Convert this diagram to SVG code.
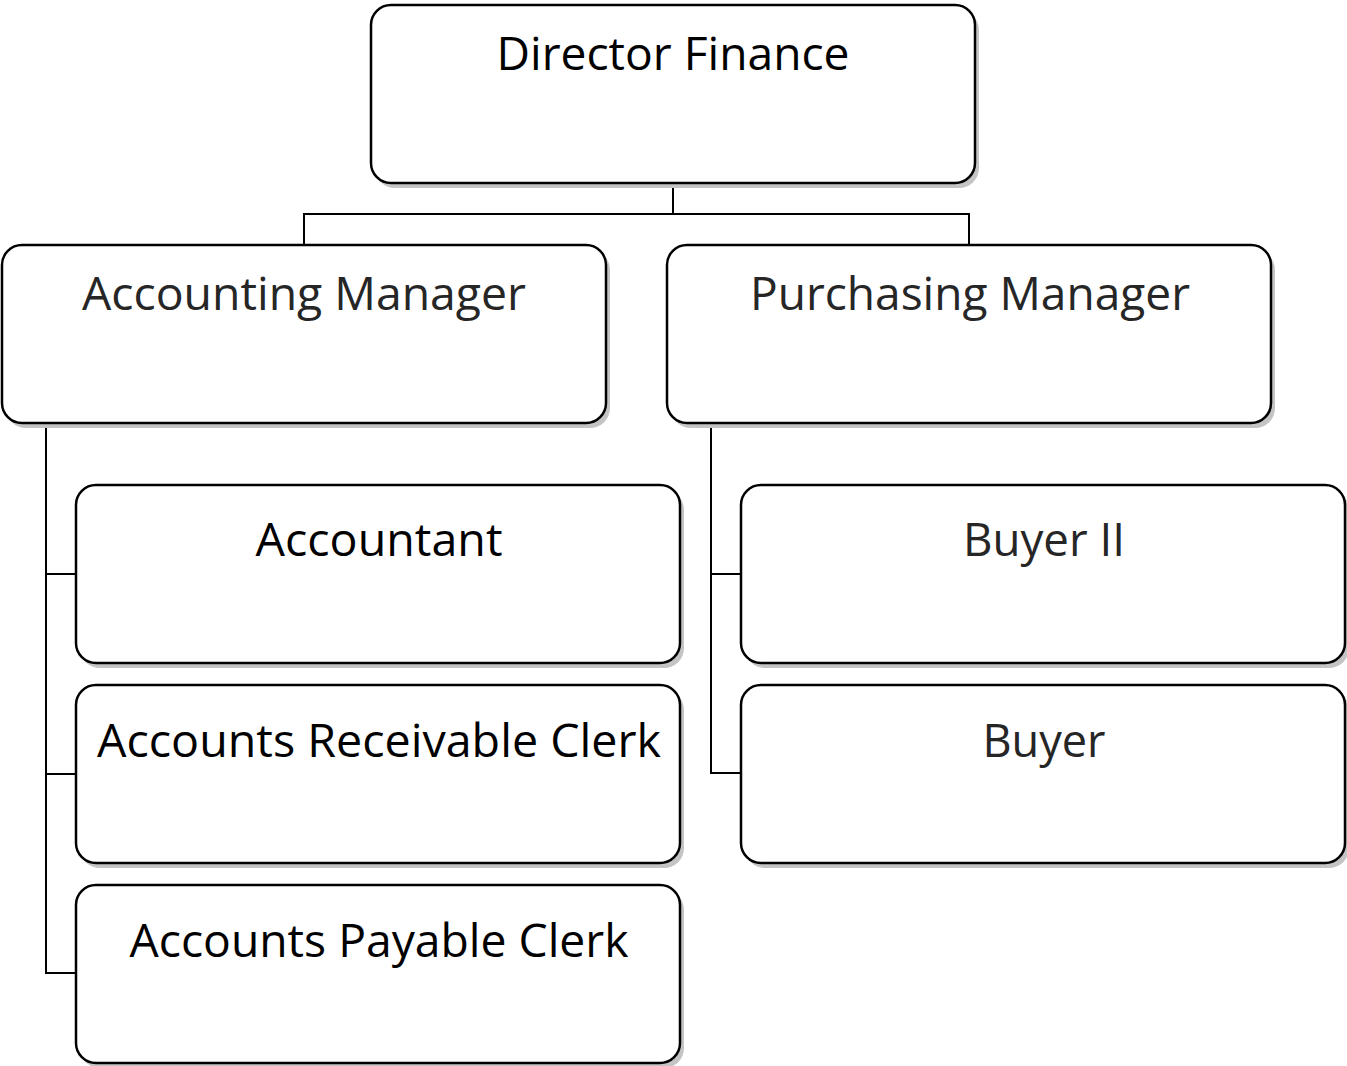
<svg xmlns="http://www.w3.org/2000/svg" width="1347" height="1066" viewBox="0 0 1347 1066">
<style>
.sh{fill:#c4c4c4;stroke:none}
.bx{fill:#ffffff;stroke:#000000;stroke-width:2.5}
.t{font-family:"Open Sans","Noto Sans",sans-serif;font-size:46px;text-anchor:middle}
.k{fill:#000000}
.g{fill:#262626}
.c{fill:none;stroke:#000000;stroke-width:2}
</style>
<rect width="1347" height="1066" fill="#ffffff"/>
<g id="connectors">
<polyline class="c" points="673,183 673,214 304,214 304,245"/>
<polyline class="c" points="673,214 969,214 969,245"/>
<polyline class="c" points="46,423 46,973 76,973"/>
<line class="c" x1="46" y1="574" x2="76" y2="574"/>
<line class="c" x1="46" y1="774" x2="76" y2="774"/>
<polyline class="c" points="711,423 711,773 741,773"/>
<line class="c" x1="711" y1="574" x2="741" y2="574"/>
</g>
<g id="director">
<rect class="sh" x="375" y="10" width="604" height="178" rx="20"/>
<rect class="bx" x="371" y="5" width="604" height="178" rx="20"/>
<text class="t k" x="673" y="70" textLength="353" lengthAdjust="spacingAndGlyphs">Director Finance</text>
</g>
<g id="accounting-manager">
<rect class="sh" x="6" y="250" width="604" height="178" rx="20"/>
<rect class="bx" x="2" y="245" width="604" height="178" rx="20"/>
<text class="t g" x="304" y="310" textLength="444" lengthAdjust="spacingAndGlyphs">Accounting Manager</text>
</g>
<g id="purchasing-manager">
<rect class="sh" x="671" y="250" width="604" height="178" rx="20"/>
<rect class="bx" x="667" y="245" width="604" height="178" rx="20"/>
<text class="t g" x="970" y="310" textLength="440" lengthAdjust="spacingAndGlyphs">Purchasing Manager</text>
</g>
<g id="accountant">
<rect class="sh" x="80" y="490" width="604" height="178" rx="20"/>
<rect class="bx" x="76" y="485" width="604" height="178" rx="20"/>
<text class="t k" x="379" y="556" textLength="247" lengthAdjust="spacingAndGlyphs">Accountant</text>
</g>
<g id="ar-clerk">
<rect class="sh" x="80" y="690" width="604" height="178" rx="20"/>
<rect class="bx" x="76" y="685" width="604" height="178" rx="20"/>
<text class="t k" x="379" y="757" textLength="564" lengthAdjust="spacingAndGlyphs">Accounts Receivable Clerk</text>
</g>
<g id="ap-clerk">
<rect class="sh" x="80" y="890" width="604" height="178" rx="20"/>
<rect class="bx" x="76" y="885" width="604" height="178" rx="20"/>
<text class="t k" x="379" y="957" textLength="499" lengthAdjust="spacingAndGlyphs">Accounts Payable Clerk</text>
</g>
<g id="buyer-ii">
<rect class="sh" x="745" y="490" width="604" height="178" rx="20"/>
<rect class="bx" x="741" y="485" width="604" height="178" rx="20"/>
<text class="t g" x="1044" y="556" textLength="162" lengthAdjust="spacingAndGlyphs">Buyer II</text>
</g>
<g id="buyer">
<rect class="sh" x="745" y="690" width="604" height="178" rx="20"/>
<rect class="bx" x="741" y="685" width="604" height="178" rx="20"/>
<text class="t g" x="1044" y="757" textLength="123" lengthAdjust="spacingAndGlyphs">Buyer</text>
</g>
</svg>
